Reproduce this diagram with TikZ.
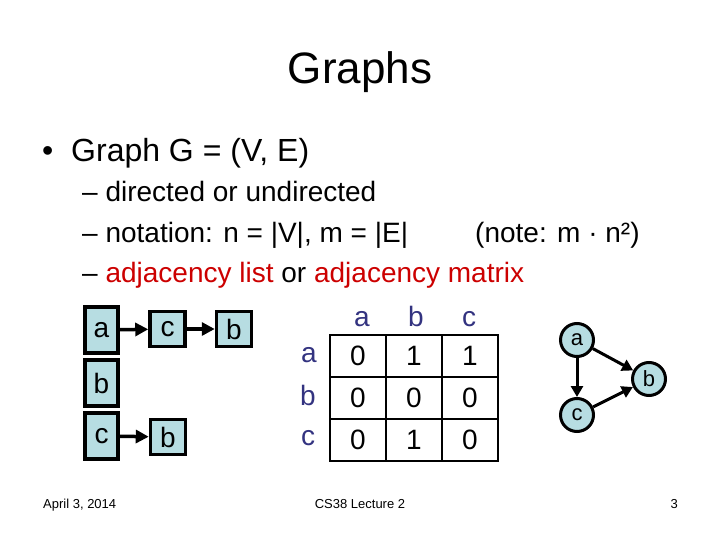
\documentclass[tikz,border=0pt]{standalone}
\usepackage{fontspec}
\setmainfont{Liberation Sans}
\usepackage{tikz}
\usetikzlibrary{arrows.meta}
\definecolor{boxblue}{RGB}{183,221,226}
\definecolor{listred}{RGB}{204,0,0}
\definecolor{headblue}{RGB}{51,51,128}
\tikzstyle{txt}=[inner sep=0pt, anchor=base west]
\tikzstyle{bigbox}=[draw=black, line width=3.5pt, fill=boxblue, minimum width=33pt, minimum height=46pt, inner sep=0pt, font=\fontsize{28}{32}\selectfont]
\tikzstyle{smallbox}=[draw=black, line width=3.5pt, fill=boxblue, minimum width=35pt, minimum height=35pt, inner sep=0pt, font=\fontsize{28}{32}\selectfont]
\tikzstyle{cell}=[draw=black, line width=2pt, minimum width=56pt, minimum height=42pt, inner sep=0pt, font=\fontsize{28}{32}\selectfont]
\tikzstyle{head}=[text=headblue, inner sep=0pt, anchor=base, font=\fontsize{28}{32}\selectfont]
\tikzstyle{vertex}=[circle, draw=black, line width=3pt, fill=boxblue, minimum size=33pt, inner sep=0pt, font=\fontsize{22}{26}\selectfont]
\tikzstyle{ptr}=[line width=3.5pt, -{Triangle[length=13pt,width=13pt]}]
\tikzstyle{edge}=[line width=3pt, -{Triangle[length=11pt,width=12pt]}]

\begin{document}
\begin{tikzpicture}
        [x=1pt,y=-1pt]
            \useasboundingbox (0,0) rectangle (720,540);
            % title and text
            \node [inner sep=0pt, anchor=base, font=\fontsize{44}{50}\selectfont] (title) at (360,84) {Graphs};
            \node [txt, font=\fontsize{32}{36}\selectfont] (bullet) at (42,162) {\textbullet};
            \node [txt, font=\fontsize{32}{36}\selectfont] (graph) at (71,162) {Graph G = (V, E)};
            \node [txt, font=\fontsize{28}{32}\selectfont] (line1) at (82,202) {– directed or undirected};
            \node [txt, font=\fontsize{28}{32}\selectfont] (line2) at (82,242) {– notation: n = |V|, m = |E|};
            \node [txt, font=\fontsize{28}{32}\selectfont] (note) at (475,242) {(note: m · n²)};
            \node [txt, font=\fontsize{28}{32}\selectfont] (line3) at (82,282) {– \textcolor{listred}{adjacency list} or \textcolor{listred}{adjacency matrix}};
            % adjacency list
            \node [bigbox] (la) at (101.5,330) {a};
            \node [bigbox] (lb) at (101.5,383) {b};
            \node [bigbox] (lc) at (101.5,436) {c};
            \node [smallbox] (lac) at (167.5,329) {c};
            \node [smallbox] (lab) at (234,329) {b};
            \node [smallbox] (lcb) at (168,437) {b};
            \draw [ptr] (la) -- (lac);
            \draw [ptr] (lac) -- (lab);
            \draw [ptr] (lc) -- (lcb);
            % adjacency matrix
            \node [head] (ha) at (362,326) {a};
            \node [head] (hb) at (416,326) {b};
            \node [head] (hc) at (469,326) {c};
            \node [head] (ra) at (309,362) {a};
            \node [head] (rb) at (308,405) {b};
            \node [head] (rc) at (308,445) {c};
            \node [cell] (m11) at (358,356) {0};
            \node [cell] (m12) at (414,356) {1};
            \node [cell] (m13) at (470,356) {1};
            \node [cell] (m21) at (358,398) {0};
            \node [cell] (m22) at (414,398) {0};
            \node [cell] (m23) at (470,398) {0};
            \node [cell] (m31) at (358,440) {0};
            \node [cell] (m32) at (414,440) {1};
            \node [cell] (m33) at (470,440) {0};
            % graph
            \node [vertex] (ga) at (577,340) {a};
            \node [vertex] (gb) at (649,379) {b};
            \node [vertex] (gc) at (577,415) {c};
            \draw [edge] (ga) -- (gc);
            \draw [edge] (ga) -- (gb);
            \draw [edge] (gc) -- (gb);
            % footer
            \node [txt, font=\fontsize{13}{15}\selectfont] (date) at (43,508) {April 3, 2014};
            \node [inner sep=0pt, anchor=base, font=\fontsize{13}{15}\selectfont] (course) at (360,508) {CS38 Lecture 2};
            \node [inner sep=0pt, anchor=base east, font=\fontsize{13}{15}\selectfont] (page) at (678,508) {3};
        \end{tikzpicture}
\end{document}
